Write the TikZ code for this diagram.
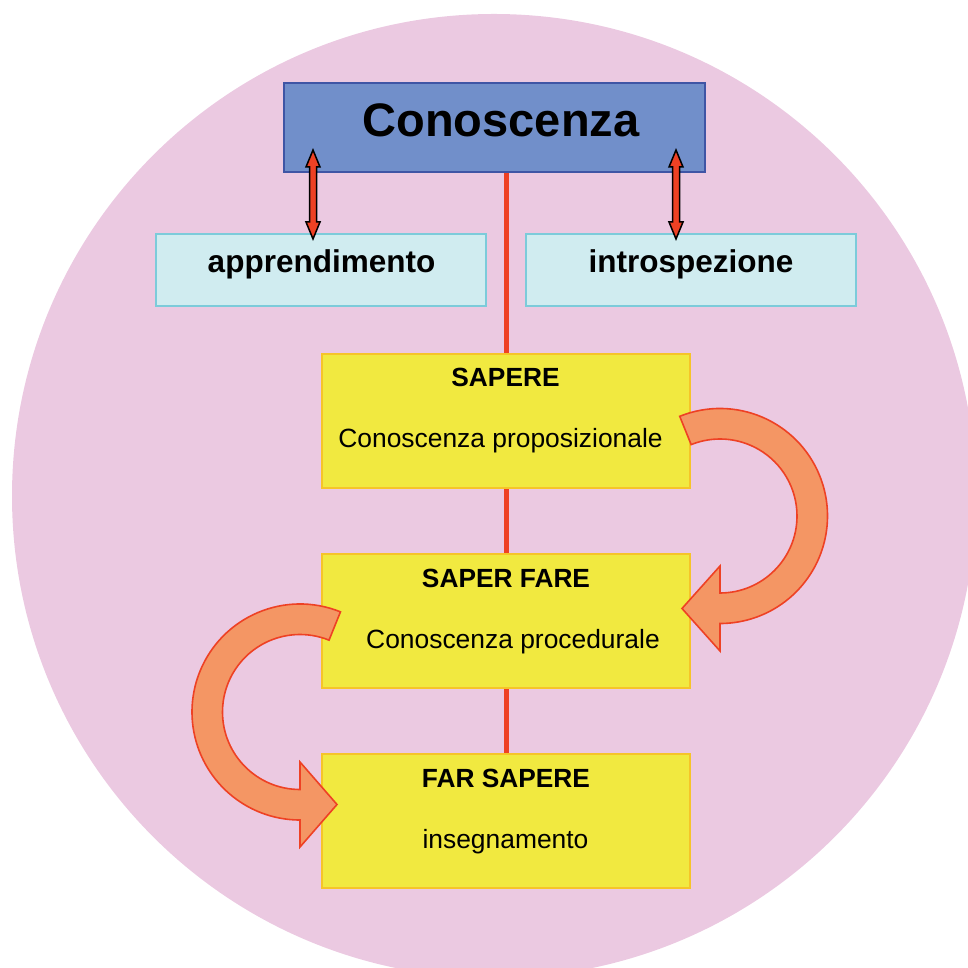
\documentclass[tikz,border=0pt]{standalone}
\usepackage{fontspec}
\setmainfont{Liberation Sans}
\usetikzlibrary{backgrounds}
\definecolor{bgpink}{RGB}{235,201,225}
\definecolor{topfill}{RGB}{113,143,202}
\definecolor{topdraw}{RGB}{63,85,165}
\definecolor{cyanfill}{RGB}{208,236,240}
\definecolor{cyandraw}{RGB}{124,203,218}
\definecolor{yelfill}{RGB}{241,233,64}
\definecolor{yeldraw}{RGB}{246,196,40}
\definecolor{linered}{RGB}{238,65,36}
\definecolor{turnfill}{RGB}{244,150,100}
% vertical two-headed block arrow: #1 = top tip coordinate, #2 = length
\newcommand\DblArrowV[2]{%
  \draw[dblarrow, shift={(#1)}]
    (0,0) -- (7,-17) -- (3.5,-17) -- (3.5,{-#2+17}) -- (7,{-#2+17})
    -- (0,-#2) -- (-7,{-#2+17}) -- (-3.5,{-#2+17}) -- (-3.5,-17)
    -- (-7,-17) -- cycle;}
\begin{document}
\begin{tikzpicture}[x=1pt,y=1pt,
  box/.style={draw, line width=2pt, inner sep=0pt, outer sep=0pt},
  topbox/.style={box, fill=topfill, draw=topdraw, minimum width=421pt, minimum height=89pt},
  sidebox/.style={box, fill=cyanfill, draw=cyandraw, minimum width=330pt, minimum height=72pt},
  levelbox/.style={box, fill=yelfill, draw=yeldraw, minimum width=368pt, minimum height=134pt},
  title/.style={anchor=base, inner sep=0pt, font=\fontsize{26.3}{30}\selectfont\bfseries},
  sub/.style={anchor=base, inner sep=0pt, font=\fontsize{26.4}{30}\selectfont},
  sidetext/.style={anchor=base, inner sep=0pt, font=\fontsize{31.5}{36}\selectfont\bfseries},
  spine/.style={draw=linered, line width=5pt},
  dblarrow/.style={draw=black, fill=linered, line width=1.5pt, line join=miter},
  turn/.style={draw=linered, fill=turnfill, line width=1.6pt, line join=miter}]
\useasboundingbox (0,0) rectangle (968,967);

% pink disc, cut by the page edges
\begin{scope}[on background layer]
  \clip (0,0) rectangle (968,967);
  \fill[bgpink] (494,471) circle[radius=482];
\end{scope}

% boxes
\node[topbox] (con) at (494.5,839.5) {};
\node[sidebox] (app) at (321,697) {};
\node[sidebox] (intr) at (691,697) {};
\node[levelbox] (sap) at (506,546) {};
\node[levelbox] (sf) at (506,346) {};
\node[levelbox] (fs) at (506,146) {};

% texts
\node[anchor=base, inner sep=0pt, font=\fontsize{47}{56}\selectfont\bfseries] (conT) at (501,830) {Conoscenza};
\node[sidetext] (appT) at (321.5,694) {apprendimento};
\node[sidetext] (intrT) at (691,694) {introspezione};
\node[title] (sapT) at (505.5,580) {SAPERE};
\node[sub] (sapS) at (500.5,519) {Conoscenza proposizionale};
\node[title] (sfT) at (506,380) {SAPER FARE};
\node[sub] (sfS) at (513,319) {Conoscenza procedurale};
\node[title] (fsT) at (506,180) {FAR SAPERE};
\node[sub] (fsS) at (505.5,119) {insegnamento};

% red spine behind the boxes
\begin{scope}[on background layer]
  \draw[spine] (sap.north |- con.south) -- (sap.north);
  \draw[spine] (sap.south) -- (sf.north);
  \draw[spine] (sf.south) -- (fs.north);
\end{scope}

% two-headed arrows between Conoscenza and the side boxes
\coordinate (la) at (313,817);
\coordinate (ra) at (676,817);
\DblArrowV{la}{89}
\DblArrowV{ra}{89}

% turning arrow SAPERE -> SAPER FARE
\coordinate (rc) at (720,451);
\draw[turn] ([shift={(112:107.5)}]rc) arc[start angle=112, end angle=-90, radius=107.5]
  -- (720,316) -- (682,358.5) -- (720,401)
  -- ([shift={(-90:77)}]rc) arc[start angle=-90, end angle=112, radius=77] -- cycle;

% turning arrow SAPER FARE -> FAR SAPERE
\coordinate (lc) at (300,255);
\draw[turn] ([shift={(68:108)}]lc) arc[start angle=68, end angle=270, radius=108]
  -- (300,120) -- (337,162.5) -- (300,205)
  -- ([shift={(270:77.5)}]lc) arc[start angle=270, end angle=68, radius=77.5] -- cycle;
\end{tikzpicture}
\end{document}
